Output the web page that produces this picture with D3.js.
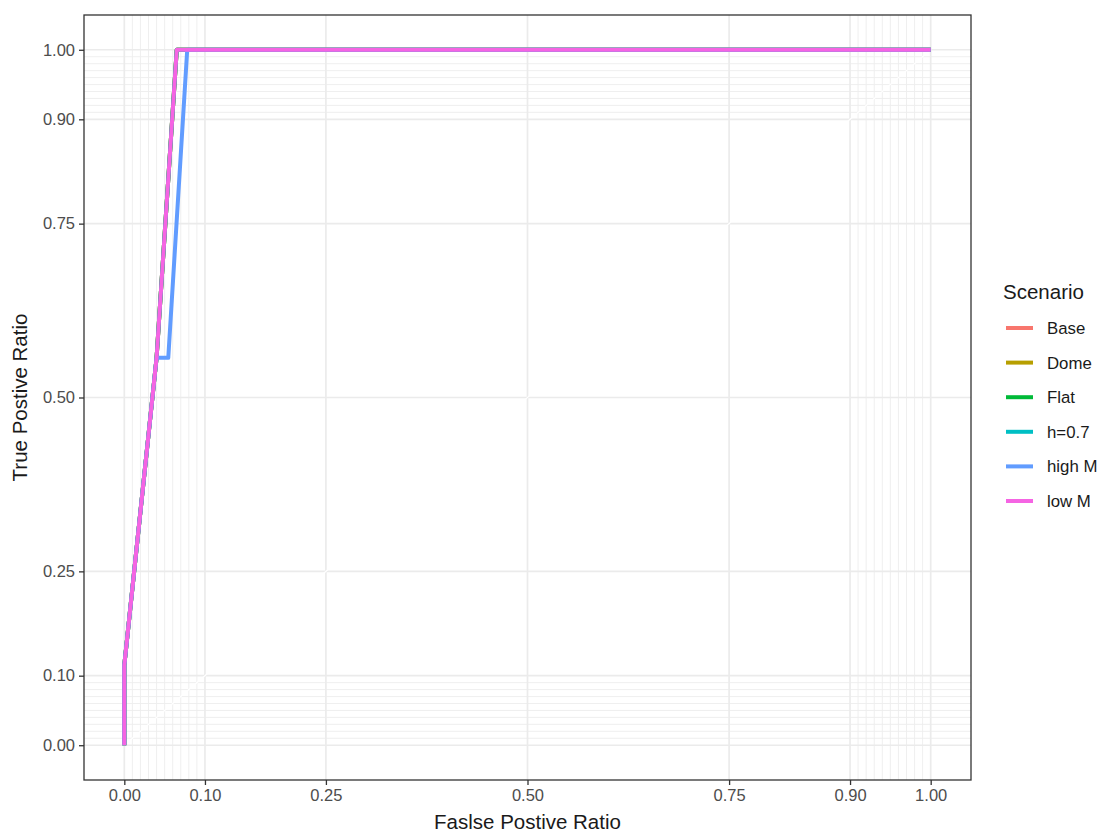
<!DOCTYPE html>
<html>
<head>
<meta charset="utf-8">
<script src="https://cdn.jsdelivr.net/npm/d3@7"></script>
<style>
  body { margin: 0; background: #fff; }
  svg { display: block; font-family: "Liberation Sans", Arial, sans-serif; }
</style>
</head>
<body>
<div id="chart"></div>
<script>
// data
const scenarios = ["Base", "Dome", "Flat", "h=0.7", "high M", "low M"]
const colors = ["#F8766D", "#B79F00", "#00BA38", "#00BFC4", "#619CFF", "#F564E3"]
const fprBase = [0, 0, 0.04, 0.065, 1]
const tprBase = [0, 0.115, 0.557, 1, 1]
const fprDome = [0, 0, 0.04, 0.065, 1]
const tprDome = [0, 0.115, 0.557, 1, 1]
const fprFlat = [0, 0, 0.04, 0.065, 1]
const tprFlat = [0, 0.115, 0.557, 1, 1]
const fprH07 = [0, 0, 0.04, 0.065, 1]
const tprH07 = [0, 0.115, 0.557, 1, 1]
const fprHighM = [0, 0, 0.04, 0.0545, 0.078, 1]
const tprHighM = [0, 0.115, 0.557, 0.557, 1, 1]
const fprLowM = [0, 0, 0.04, 0.065, 1]
const tprLowM = [0, 0.115, 0.557, 1, 1]
const majorTicks = [0, 0.1, 0.25, 0.5, 0.75, 0.9, 1]
const minorTicks = [0.01, 0.02, 0.03, 0.04, 0.05, 0.06, 0.07, 0.08, 0.09,
                    0.91, 0.92, 0.93, 0.94, 0.95, 0.96, 0.97, 0.98, 0.99]

const fprs = [fprBase, fprDome, fprFlat, fprH07, fprHighM, fprLowM]
const tprs = [tprBase, tprDome, tprFlat, tprH07, tprHighM, tprLowM]
const series = scenarios.map((s, i) => ({
  name: s,
  color: colors[i],
  points: fprs[i].map((f, j) => [f, tprs[i][j]])
}))

//dimensions
const dimensions = {
  width: 1106,
  height: 833,
  margin: { top: 15, right: 135, bottom: 53, left: 84 }
}
dimensions.boundedWidth = dimensions.width - dimensions.margin.left - dimensions.margin.right
dimensions.boundedHeight = dimensions.height - dimensions.margin.top - dimensions.margin.bottom

const svg = d3.select("#chart").append("svg")
    .attr("width", dimensions.width)
    .attr("height", dimensions.height)
const bounds = svg.append("g")
    .attr("transform", `translate(${dimensions.margin.left},${dimensions.margin.top})`)

//scales, 5% expansion like ggplot
const xScale = d3.scaleLinear().domain([-0.05, 1.05]).range([0, dimensions.boundedWidth])
const yScale = d3.scaleLinear().domain([-0.05, 1.05]).range([dimensions.boundedHeight, 0])

//grid
const grid = bounds.append("g")
grid.selectAll(".minor-x").data(minorTicks).join("line")
    .attr("x1", d => xScale(d)).attr("x2", d => xScale(d))
    .attr("y1", 0).attr("y2", dimensions.boundedHeight)
    .attr("stroke", "#EDEDED").attr("stroke-width", 0.9)
grid.selectAll(".minor-y").data(minorTicks).join("line")
    .attr("y1", d => yScale(d)).attr("y2", d => yScale(d))
    .attr("x1", 0).attr("x2", dimensions.boundedWidth)
    .attr("stroke", "#EDEDED").attr("stroke-width", 0.9)
grid.selectAll(".major-x").data(majorTicks).join("line")
    .attr("x1", d => xScale(d)).attr("x2", d => xScale(d))
    .attr("y1", 0).attr("y2", dimensions.boundedHeight)
    .attr("stroke", "#EBEBEB").attr("stroke-width", 1.7)
grid.selectAll(".major-y").data(majorTicks).join("line")
    .attr("y1", d => yScale(d)).attr("y2", d => yScale(d))
    .attr("x1", 0).attr("x2", dimensions.boundedWidth)
    .attr("stroke", "#EBEBEB").attr("stroke-width", 1.7)

//white reference diagonal
bounds.append("line")
    .attr("x1", xScale(0)).attr("y1", yScale(0))
    .attr("x2", xScale(1)).attr("y2", yScale(1))
    .attr("stroke", "#fff").attr("stroke-width", 1.2)

//curves
const lineGen = d3.line().x(d => xScale(d[0])).y(d => yScale(d[1]))
bounds.append("g").selectAll("path").data(series).join("path")
    .attr("d", d => lineGen(d.points))
    .attr("fill", "none")
    .attr("stroke", d => d.color)
    .attr("stroke-width", 4)
    .attr("stroke-linejoin", "round")

//panel border
bounds.append("rect")
    .attr("width", dimensions.boundedWidth)
    .attr("height", dimensions.boundedHeight)
    .attr("fill", "none")
    .attr("stroke", "#333333")
    .attr("stroke-width", 1.3)

//axes
const fmt = d3.format(".2f")
const xAxis = bounds.append("g")
    .attr("transform", `translate(0,${dimensions.boundedHeight})`)
    .call(d3.axisBottom(xScale).tickValues(majorTicks).tickFormat(fmt).tickSize(5).tickPadding(4).tickSizeOuter(0))
const yAxis = bounds.append("g")
    .call(d3.axisLeft(yScale).tickValues(majorTicks).tickFormat(fmt).tickSize(5).tickPadding(4).tickSizeOuter(0))
for (const ax of [xAxis, yAxis]) {
  ax.select(".domain").remove()
  ax.selectAll(".tick line").attr("stroke", "#333333").attr("stroke-width", 1.3)
  ax.selectAll(".tick text")
      .attr("fill", "#4D4D4D")
      .style("font-size", "16.5px")
      .style("font-family", "Liberation Sans, Arial, sans-serif")
}

//axis titles
svg.append("text")
    .attr("x", dimensions.margin.left + xScale(0.5))
    .attr("y", 829)
    .attr("text-anchor", "middle")
    .style("font-size", "20.5px")
    .attr("fill", "#1a1a1a")
    .text("Faslse Postive Ratio")
svg.append("text")
    .attr("transform", `translate(27,${dimensions.margin.top + yScale(0.5)}) rotate(-90)`)
    .attr("text-anchor", "middle")
    .style("font-size", "20.5px")
    .attr("fill", "#1a1a1a")
    .text("True Postive Ratio")

//legend
const legend = svg.append("g").attr("transform", "translate(1003,0)")
legend.append("text")
    .attr("x", 0).attr("y", 299)
    .style("font-size", "20.5px")
    .attr("fill", "#1a1a1a")
    .text("Scenario")
const keys = legend.selectAll(".key").data(series).join("g")
    .attr("transform", (d, i) => `translate(0,${328 + i * 34.6})`)
keys.append("line")
    .attr("x1", 3).attr("x2", 30)
    .attr("stroke", d => d.color)
    .attr("stroke-width", 4)
keys.append("text")
    .attr("x", 44).attr("y", 6)
    .style("font-size", "16.8px")
    .attr("fill", "#1a1a1a")
    .text(d => d.name)
</script>
</body>
</html>
